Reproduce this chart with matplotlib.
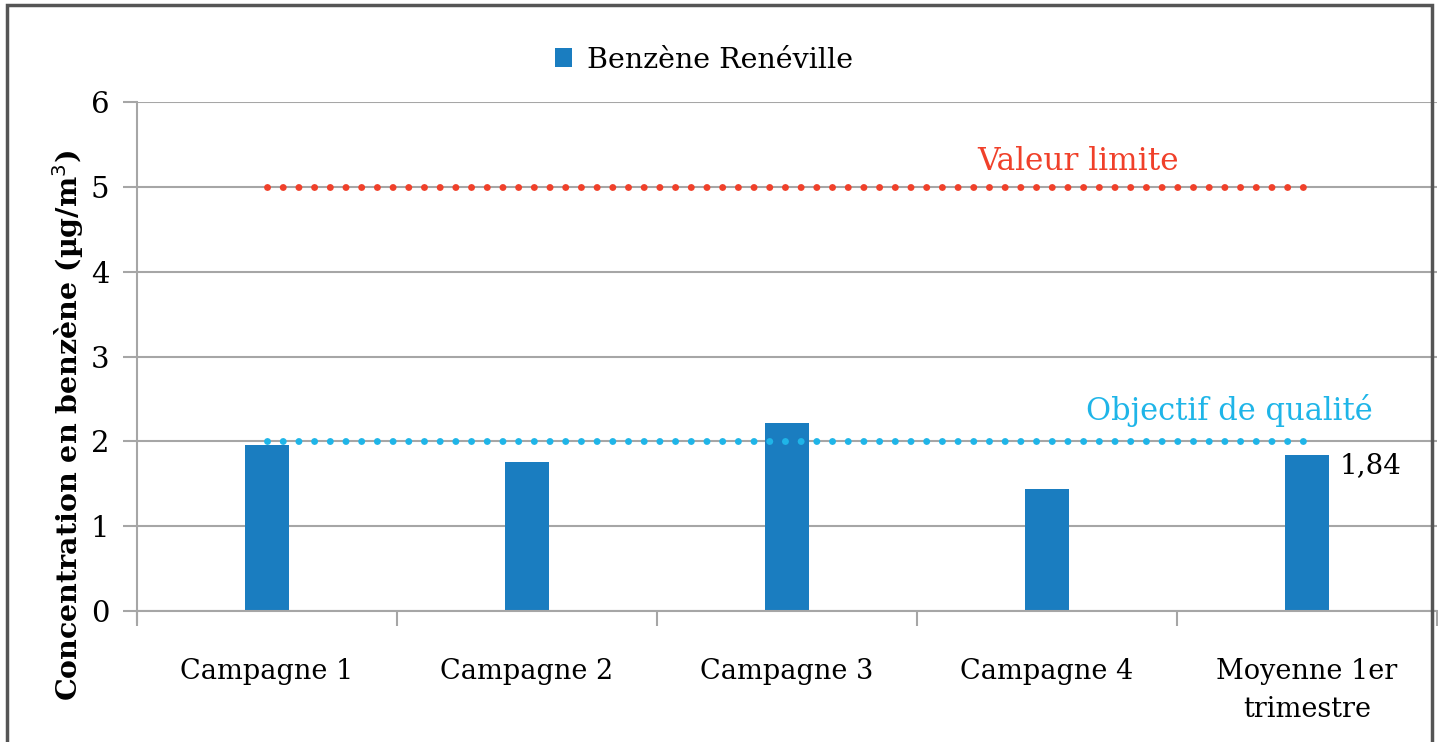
import matplotlib
matplotlib.use('Agg')
import matplotlib.pyplot as plt
from matplotlib.patches import Rectangle

categories = ['Campagne 1', 'Campagne 2', 'Campagne 3', 'Campagne 4', 'Moyenne 1er\ntrimestre']
benzene = [1.96, 1.76, 2.22, 1.44, 1.84]
valeur_limite = 5
objectif_qualite = 2

plt.rcParams['font.family'] = ['DejaVu Serif']

W, H = 1438, 742
fig = plt.figure(figsize=(W / 100, H / 100), dpi=100)
ax = fig.add_axes([137 / W, 1 - 611 / H, (1437 - 137) / W, (611 - 102) / H])

x = list(range(len(categories)))
blue = '#1a7dc0'
red = '#f0402a'
cyan = '#1fb5e8'
grey = '#a6a6a6'

ax.bar(x, benzene, width=0.17, color=blue, zorder=2, label='Benzène Renéville')

# dotted reference lines
ax.plot(x, [valeur_limite] * len(x), color=red, lw=5,
        linestyle=(0, (0.01, 2.25)), dash_capstyle='round', zorder=3)
ax.plot(x, [objectif_qualite] * len(x), color=cyan, lw=5,
        linestyle=(0, (0.01, 2.25)), dash_capstyle='round', zorder=3)
ax.text(3.12, 5.3, 'Valeur limite', color=red, fontsize=22.5, ha='center', va='center')
ax.text(3.70, 2.36, 'Objectif de qualité', color=cyan, fontsize=22, ha='center', va='center')

ax.text(4 + 0.125, benzene[-1] - 0.12, '1,84', fontsize=20, ha='left', va='center')

ax.set_xlim(-0.5, 4.5)
ax.set_ylim(0, 6)
ax.set_yticks(range(7))
ax.grid(axis='y', color=grey, lw=1.5, zorder=0)
ax.set_xticks([i + 0.5 for i in range(-1, 5)], minor=False)
ax.set_xticklabels([])
ax.set_xticks(x, minor=True)
ax.set_xticklabels(categories, minor=True, fontsize=19.5, linespacing=1.5)
ax.tick_params(axis='x', which='major', length=11, width=1.5, color=grey)
ax.tick_params(axis='x', which='minor', length=0, pad=34)
ax.tick_params(axis='y', length=10, width=1.5, color=grey, labelsize=21, pad=10)
for s in ['top', 'right']:
    ax.spines[s].set_visible(False)
ax.spines['left'].set_color(grey)
ax.spines['left'].set_linewidth(1.5)
ax.spines['bottom'].set_color(grey)
ax.spines['bottom'].set_linewidth(1.5)
ax.spines['left'].set_bounds(-0.13, 6)

fig.text(68 / W, 1 - 425 / H, 'Concentration en benzène (µg/m$^3$)', rotation=90,
         fontsize=20.5, fontweight='bold', ha='center', va='center')

ax.legend(loc='center', bbox_to_anchor=(704 / W, 1 - 60 / H), bbox_transform=fig.transFigure,
          frameon=False, fontsize=20.5, handlelength=0.6, handleheight=0.6, handletextpad=0.5)

fig.patches.append(Rectangle((7 / W, -0.1), (1432 - 7) / W, 1.1 - 5 / H, transform=fig.transFigure,
                             fill=False, edgecolor='#555555', lw=2.5, zorder=10))

plt.savefig('out.png', dpi=100)
